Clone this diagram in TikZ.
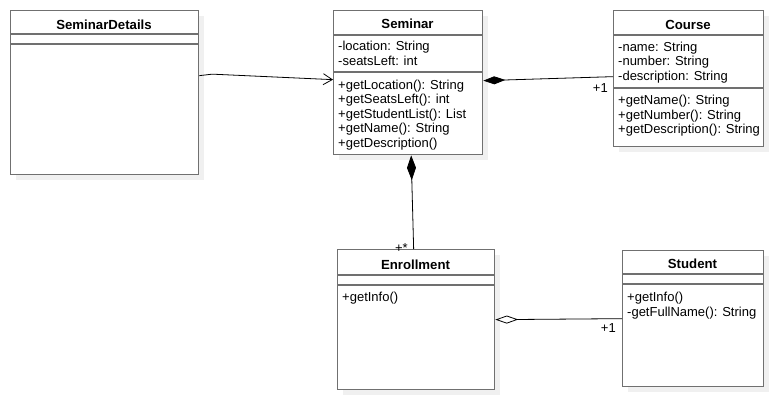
\documentclass[tikz,border=0pt]{standalone}
\usepackage{fontspec}
\setmainfont{Liberation Sans}
\usetikzlibrary{arrows.meta, positioning, calc}
\definecolor{boxgray}{RGB}{112,112,112}
\definecolor{shadegray}{RGB}{240,240,240}

\begin{document}
\begin{tikzpicture}[x=1pt, y=-1pt,
    classbox/.style={draw=boxgray, line width=1.3pt, fill=white, anchor=north west, inner sep=0pt},
    boxshade/.style={fill=shadegray},
    classname/.style={font=\fontsize{13.2}{15}\selectfont\bfseries, anchor=base, inner sep=0pt},
    members/.style={font=\fontsize{13}{14.5}\selectfont, anchor=north west, align=left, inner sep=0pt},
    divider/.style={boxgray, line width=1.3pt},
    mult/.style={font=\fontsize{13}{14.5}\selectfont, anchor=base east, inner sep=0pt},
    assoc/.style={black, line width=0.8pt}
]
    \useasboundingbox (0,0) rectangle (774,400);

    % SeminarDetails
    \fill[boxshade] (16,16) rectangle (204,180);
    \node[classbox, minimum width=188pt, minimum height=164pt] (details) at (10,10) {};
    \node[classname] (detailsName) at (104,29) {SeminarDetails};
    \draw[divider] ($(details.north west)+(0,24)$) -- ($(details.north east)+(0,24)$);
    \draw[divider] ($(details.north west)+(0,34)$) -- ($(details.north east)+(0,34)$);

    % Seminar
    \fill[boxshade] (339,16) rectangle (488,160);
    \node[classbox, minimum width=149pt, minimum height=144pt] (seminar) at (333,10) {};
    \node[classname] (seminarName) at (407.5,28.7) {Seminar};
    \draw[divider] ($(seminar.north west)+(0,25)$) -- ($(seminar.north east)+(0,25)$);
    \draw[divider] ($(seminar.north west)+(0,62)$) -- ($(seminar.north east)+(0,62)$);
    \node[members] (seminarAttr) at (338,41) {-location: String\\-seatsLeft: int};
    \node[members] (seminarOps) at (338,79.5) {+getLocation(): String\\+getSeatsLeft(): int\\+getStudentList(): List\\+getName(): String\\+getDescription()};

    % Course
    \fill[boxshade] (619,16) rectangle (769,152);
    \node[classbox, minimum width=150pt, minimum height=136pt] (course) at (613,10) {};
    \node[classname] (courseName) at (688,29) {Course};
    \draw[divider] ($(course.north west)+(0,25)$) -- ($(course.north east)+(0,25)$);
    \draw[divider] ($(course.north west)+(0,78)$) -- ($(course.north east)+(0,78)$);
    \node[members] (courseAttr) at (618,41.5) {-name: String\\-number: String\\-description: String};
    \node[members] (courseOps) at (618,95) {+getName(): String\\+getNumber(): String\\+getDescription(): String};

    % Enrollment
    \fill[boxshade] (343,255) rectangle (500,395);
    \node[classbox, minimum width=157pt, minimum height=140pt] (enrollment) at (337,249) {};
    \node[classname] (enrollmentName) at (415.5,269) {Enrollment};
    \draw[divider] ($(enrollment.north west)+(0,26)$) -- ($(enrollment.north east)+(0,26)$);
    \draw[divider] ($(enrollment.north west)+(0,36)$) -- ($(enrollment.north east)+(0,36)$);
    \node[members] (enrollmentOps) at (342,291.7) {+getInfo()};

    % Student
    \fill[boxshade] (628,256) rectangle (769,392);
    \node[classbox, minimum width=141pt, minimum height=136pt] (student) at (622,250) {};
    \node[classname] (studentName) at (692.5,268.5) {Student};
    \draw[divider] ($(student.north west)+(0,24)$) -- ($(student.north east)+(0,24)$);
    \draw[divider] ($(student.north west)+(0,34)$) -- ($(student.north east)+(0,34)$);
    \node[members] (studentOps) at (627,292.3) {+getInfo()\\-getFullName(): String};

    % Associations
    \draw[assoc, -{Straight Barb[length=9pt,width=11pt]}]
        ([yshift=17pt]details.east) -- ++(13,-1.5) -- ([yshift=3pt]seminar.west);
    \draw[assoc, {Diamond[length=22pt,width=8pt]}-] ([yshift=2pt]seminar.east) -- ([yshift=2pt]course.west);
    \draw[assoc, {Diamond[length=25pt,width=9pt]}-] ([xshift=3pt]seminar.south) -- ([xshift=-2.5pt]enrollment.north);
    \draw[assoc, {Diamond[open,length=23pt,width=8pt]}-] (enrollment.east) -- (student.west);

    % Multiplicities
    \node[mult] (courseMult) at (608,92.5) {+1};
    \node[mult] (enrollmentMult) at (408,252) {+*};
    \node[mult] (studentMult) at (616,332) {+1};
\end{tikzpicture}
\end{document}
